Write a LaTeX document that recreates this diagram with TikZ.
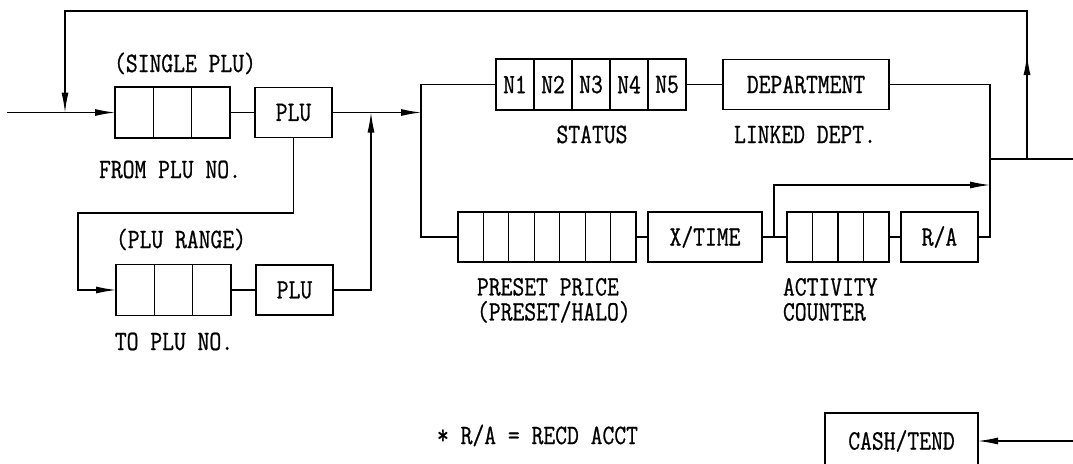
\documentclass[tikz,border=0pt]{standalone}
\usepackage{fontspec}
\newfontfamily\dmono[FakeStretch=0.82,FakeBold=0.8]{Latin Modern Mono}
\usetikzlibrary{arrows.meta,calc}
\begin{document}
\begin{tikzpicture}[x=1pt,y=-1pt,
  every node/.style={font=\dmono\fontsize{28}{30}\selectfont, inner sep=0pt, outer sep=0pt},
  box/.style={draw, line width=1.2pt, minimum height=50pt},
  cellbox/.style={draw, line width=1.2pt, minimum height=51pt, minimum width=38pt},
  conn/.style={line width=1.2pt},
  arr/.style={conn, -{Latex[length=20pt,width=7pt]}},
  lbl/.style={anchor=base},
  lblw/.style={anchor=base west},
  twoline/.style={align=left, anchor=north west, font=\dmono\fontsize{28}{25}\selectfont}]
\useasboundingbox (0,0) rectangle (1073,463);
\clip (0,0) rectangle (1073,463);

% ---- boxes ----
\node[box, minimum width=115pt, minimum height=51pt] (box1) at (172.5,112.5) {};
\foreach \i in {1,2}
  \draw[conn] ($(box1.north west)!\i/3!(box1.north east)$) -- ($(box1.south west)!\i/3!(box1.south east)$);
\node[box, minimum width=77pt] (plu1) at (293.5,112.5) {PLU};

\node[box, minimum width=115pt, minimum height=51pt] (box2) at (173.5,290) {};
\foreach \i in {1,2}
  \draw[conn] ($(box2.north west)!\i/3!(box2.north east)$) -- ($(box2.south west)!\i/3!(box2.south east)$);
\node[box, minimum width=77pt] (plu2) at (294.5,290) {PLU};

\node[cellbox] (n1) at (515,84.5) {N1};
\node[cellbox] (n2) at (553,84.5) {N2};
\node[cellbox] (n3) at (591,84.5) {N3};
\node[cellbox] (n4) at (629,84.5) {N4};
\node[cellbox] (n5) at (667,84.5) {N5};
\node[box, minimum width=166pt] (dept) at (806,84.5) {DEPARTMENT};

\node[box, minimum width=178pt] (preset) at (547,237) {};
\foreach \i in {1,...,6}
  \draw[conn] ($(preset.north west)!\i/7!(preset.north east)$) -- ($(preset.south west)!\i/7!(preset.south east)$);
\node[box, minimum width=114pt] (xtime) at (705,237) {X/TIME};
\node[box, minimum width=102pt] (act) at (838,237) {};
\foreach \i in {1,2,3}
  \draw[conn] ($(act.north west)!\i/4!(act.north east)$) -- ($(act.south west)!\i/4!(act.south east)$);
\node[box, minimum width=77pt] (ra) at (939.5,237) {R/A};

\node[box, minimum width=153pt, minimum height=56pt] (cash) at (901.5,441) {CASH/TEND};

% ---- labels ----
\node[lbl] (tsingle) at (185,72) {(SINGLE PLU)};
\node[lbl] (tfrom) at (170,178) {FROM PLU NO.};
\node[lbl] (trange) at (181,248) {(PLU RANGE)};
\node[lbl] (tto) at (174,350) {TO PLU NO.};
\node[lbl] (tstatus) at (592,143) {STATUS};
\node[lbl] (tlinked) at (805,143) {LINKED DEPT.};
\node[twoline] (tpreset) at (477,278) {PRESET PRICE\\(PRESET/HALO)};
\node[twoline] (tact) at (783,278) {ACTIVITY\\COUNTER};
\node[lblw] (tnote) at (437,444) {* R/A = RECD ACCT};

% ---- coordinates ----
\coordinate (start) at (7,112.5);
\coordinate (j1) at (65,112.5);
\coordinate (tl) at (65,11);
\coordinate (tr) at (1027,11);
\coordinate (rj) at (1027,159);
\coordinate (upa) at (1027,55);
\coordinate (rj2) at (990,159);
\coordinate (rend) at (1073,159);
\coordinate (m) at (421,112.5);
\coordinate (r1) at (371,112.5);
\coordinate (c1) at (78,213);
\coordinate (vt) at (421,84.5);
\coordinate (vb) at (421,237);
\coordinate (rv) at (990,237);
\coordinate (br) at (774,237);
\coordinate (ba) at (990,185);
\coordinate (cin) at (1073,441);

% ---- connectors ----
\draw[arr] (start) -- (box1.west);
\draw[conn] (box1.east) -- (plu1.west);
\draw[arr] (plu1.east) -- (m);
\draw[arr] (plu2.east) -| (r1);
\draw[arr] (plu1.south) |- (c1) |- (box2.west);
\draw[conn] (box2.east) -- (plu2.west);
\draw[arr] (rj) -- (tr) -- (tl) -- (j1);
\draw[arr] (rj) -- (upa);
\draw[conn] (n1.west) -- (vt) -- (vb) -- (preset.west);
\draw[conn] (n5.east) -- (dept.west);
\draw[conn] (dept.east) -| (rv) -- (ra.east);
\draw[conn] (preset.east) -- (xtime.west);
\draw[conn] (xtime.east) -- (act.west);
\draw[arr] (br) |- (ba);
\draw[conn] (act.east) -- (ra.west);
\draw[conn] (rj2) -- (rend);
\draw[arr] (cin) -- (cash.east);
\end{tikzpicture}
\end{document}
